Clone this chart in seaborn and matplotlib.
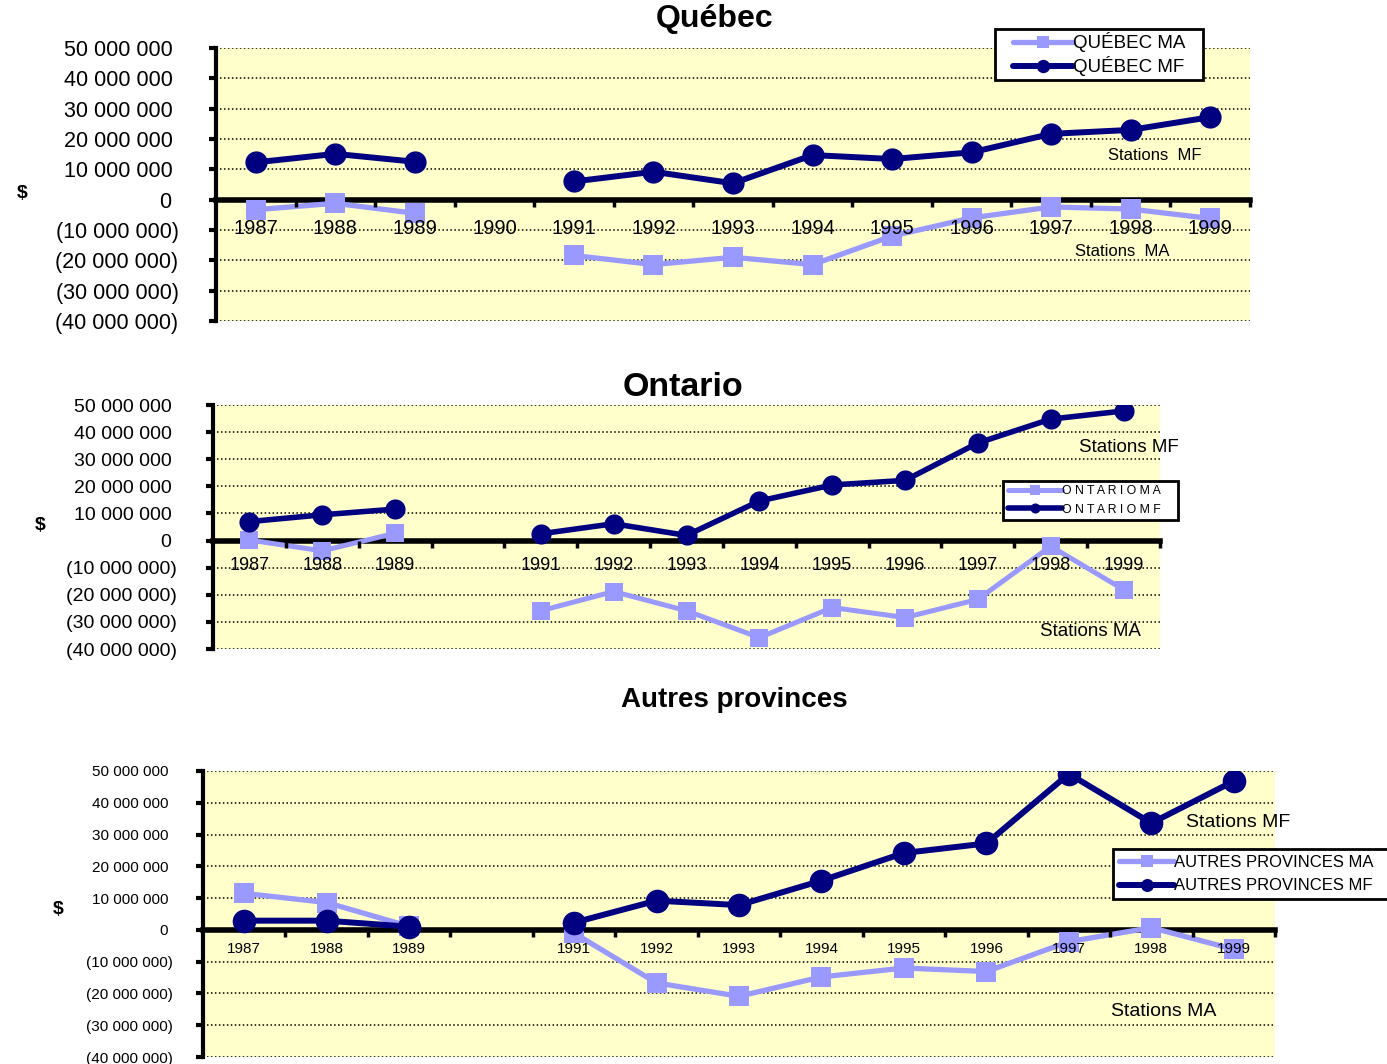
import numpy as np
import pandas as pd
import matplotlib
matplotlib.use("Agg")
import matplotlib.pyplot as plt
import seaborn as sns
from matplotlib.ticker import FuncFormatter
from matplotlib.lines import Line2D
from matplotlib.legend_handler import HandlerLine2D

nan = np.nan

# Données (en dollars)
years = [1987, 1988, 1989, 1990, 1991, 1992, 1993, 1994, 1995, 1996, 1997, 1998, 1999]
labels_quebec = [str(y) for y in years]
labels_autres = [str(y) if y != 1990 else "" for y in years]

quebec_ma = [-3.3e6, -1.2e6, -4.5e6, nan, -18.4e6, -21.4e6, -19.0e6, -21.4e6, -12.0e6, -6.0e6, -2.4e6, -3.1e6, -6.2e6]
quebec_mf = [12.3e6, 15.1e6, 12.5e6, nan, 6.0e6, 9.2e6, 5.4e6, 14.7e6, 13.4e6, 15.6e6, 21.7e6, 23.0e6, 27.2e6]
ontario_ma = [0.2e6, -3.8e6, 2.7e6, nan, -25.9e6, -18.8e6, -25.9e6, -35.8e6, -24.7e6, -28.4e6, -21.7e6, -2.1e6, -18.1e6]
ontario_mf = [7.0e6, 9.5e6, 11.6e6, nan, 2.5e6, 6.2e6, 1.9e6, 14.6e6, 20.5e6, 22.2e6, 36.0e6, 44.8e6, 47.8e6]
autres_ma = [11.5e6, 8.6e6, 1.1e6, nan, -1.0e6, -16.7e6, -20.9e6, -14.8e6, -12.0e6, -13.1e6, -3.7e6, 0.7e6, -6.1e6]
autres_mf = [2.9e6, 2.9e6, 1.0e6, nan, 2.3e6, 9.2e6, 7.8e6, 15.5e6, 24.2e6, 27.2e6, 49.1e6, 33.6e6, 46.8e6]

COL_MA = "#9999FF"
COL_MF = "#000080"
FOND = "#FFFFCC"

sns.set_theme(style="white", rc={"text.color": "black", "xtick.color": "black",
                                 "ytick.color": "black", "axes.labelcolor": "black"})
plt.rcParams["font.family"] = ["Liberation Sans", "DejaVu Sans"]

W, H = 1387, 1064
fig = plt.figure(figsize=(W / 100, H / 100), dpi=100)


def px_rect(x0, x1, y0, y1):
    return [x0 / W, 1 - y1 / H, (x1 - x0) / W, (y1 - y0) / H]


def to_frame(values):
    df = pd.DataFrame({"pos": range(len(values)), "val": values})
    df["seg"] = df["val"].isna().cumsum()
    return df.dropna()


def fmt(v, pos):
    n = int(round(v))
    s = f"{abs(n):,}".replace(",", " ")
    return f"({s})" if n < 0 else s + " "


panels = [
    dict(title="Québec", rect=px_rect(216, 1250, 48, 321), ma=quebec_ma, mf=quebec_mf,
         xlabels=labels_quebec, names=("QUÉBEC MA", "QUÉBEC MF"),
         tfs=23, tpos=(715, 19), dpos=(22, 193), yfs=15.5, xfs=14.5, ypad=22, xpad=14,
         ms=(14.5, 16), lw=(3.8, 4.3), sfs=12,
         mf_txt=(11.3, 14.5e6, "Stations  MF"), ma_txt=(10.9, -17.1e6, "Stations  MA"),
         leg=dict(x0=995, x1=1203, top=29, fs=13.5, hl=4.0, xpad=0.8, ls=0.22, bp=0.18, msc=0.6)),
    dict(title="Ontario", rect=px_rect(213, 1160, 405, 649), ma=ontario_ma, mf=ontario_mf,
         xlabels=labels_autres, names=("O N T A R I O M A", "O N T A R I O M F"),
         tfs=24.5, tpos=(683, 388), dpos=(40, 525), yfs=14, xfs=13, ypad=21, xpad=12,
         ms=(13.5, 14.5), lw=(3.6, 4.0), sfs=13.5,
         mf_txt=(12.07, 34.4e6, "Stations MF"), ma_txt=(11.55, -33.7e6, "Stations MA"),
         leg=dict(x0=1003, x1=1178, top=481, fs=8.8, hl=4.5, xpad=0.1, ls=0.55, bp=0.33, msc=0.5)),
    dict(title="Autres provinces", rect=px_rect(203, 1275, 771, 1057), ma=autres_ma, mf=autres_mf,
         xlabels=labels_autres, names=("AUTRES PROVINCES MA", "AUTRES PROVINCES MF"),
         tfs=20, tpos=(734, 700), dpos=(58, 910), yfs=11, xfs=11, ypad=17, xpad=9,
         ms=(14.5, 17), lw=(3.8, 4.3), sfs=14,
         mf_txt=(12.05, 33.9e6, "Stations MF"), ma_txt=(11.15, -25.7e6, "Stations MA"),
         leg=dict(x0=1113, x1=1405, top=849, fs=12, hl=3.3, xpad=0.0, ls=0.5, bp=0.36, msc=0.55)),
]

for p in panels:
    ax = fig.add_axes(p["rect"])
    ax.set_facecolor(FOND)

    for vals, col, mk, ms, lw, name in [
        (p["ma"], COL_MA, "s", p["ms"][0], p["lw"][0], p["names"][0]),
        (p["mf"], COL_MF, "o", p["ms"][1], p["lw"][1], p["names"][1]),
    ]:
        sns.lineplot(data=to_frame(vals), x="pos", y="val", units="seg", estimator=None,
                     color=col, marker=mk, markersize=ms, linewidth=lw,
                     markeredgewidth=0, label=name, ax=ax, legend=False, zorder=2)

    ax.set_xlim(-0.5, 12.5)
    ax.set_ylim(-40e6, 50e6)
    yt = np.arange(-40e6, 50e6 + 1, 10e6)
    ax.set_yticks(yt)
    ax.yaxis.set_major_formatter(FuncFormatter(fmt))
    ax.set_xticks(range(len(years)))
    ax.set_xticklabels(p["xlabels"])
    ax.set_xticks(np.arange(0.5, 13, 1), minor=True)
    ax.set_xlabel("")
    ax.set_ylabel("")

    # quadrillage pointillé sous les courbes, étiquettes au-dessus
    ax.grid(False)
    ax.set_axisbelow(False)
    for v in yt:
        ax.axhline(v, linestyle=(0, (1, 1.6)), color="black", linewidth=1.1, zorder=0.8)

    ax.spines["top"].set_visible(False)
    ax.spines["right"].set_visible(False)
    for side, lw in [("left", 3), ("bottom", 4)]:
        ax.spines[side].set_linewidth(lw)
        ax.spines[side].set_color("black")
        ax.spines[side].set_zorder(1.5)
    ax.spines["bottom"].set_position(("data", 0))

    ax.tick_params(axis="y", direction="out", length=5, width=3, color="black",
                   pad=p["ypad"], labelsize=p["yfs"], left=True)
    ax.tick_params(axis="x", which="major", length=0, pad=p["xpad"], labelsize=p["xfs"])
    ax.tick_params(axis="x", which="minor", direction="out", length=5, width=2.5,
                   color="black", bottom=True)

    x, y, t = p["mf_txt"]
    ax.text(x, y, t, ha="center", va="center", fontsize=p["sfs"], color="black")
    x, y, t = p["ma_txt"]
    ax.text(x, y, t, ha="center", va="center", fontsize=p["sfs"], color="black")

    handles, names = ax.get_legend_handles_labels()
    uniq = dict(zip(names, handles))
    lg = p["leg"]
    bx0 = lg["x0"] / W
    bw = (lg["x1"] - lg["x0"]) / W
    btop = 1 - lg["top"] / H
    leg = ax.legend(uniq.values(), uniq.keys(), loc="upper left", mode="expand",
                    bbox_to_anchor=(bx0, btop - 0.05, bw, 0.05),
                    bbox_transform=fig.transFigure, fontsize=lg["fs"],
                    handlelength=lg["hl"], handletextpad=0.0, labelspacing=lg["ls"],
                    borderpad=lg["bp"], borderaxespad=0, markerscale=lg["msc"],
                    handler_map={Line2D: HandlerLine2D(xpad=lg["xpad"])},
                    frameon=True, fancybox=False, framealpha=1)
    leg.get_frame().set_edgecolor("black")
    leg.get_frame().set_linewidth(2)
    leg.set_zorder(6)

    fig.text(p["tpos"][0] / W, 1 - p["tpos"][1] / H, p["title"], ha="center", va="center",
             fontsize=p["tfs"], fontweight="bold")
    fig.text(p["dpos"][0] / W, 1 - p["dpos"][1] / H, "$", ha="center", va="center",
             fontsize=14, fontweight="bold")

fig.savefig("out.png", dpi=100)
